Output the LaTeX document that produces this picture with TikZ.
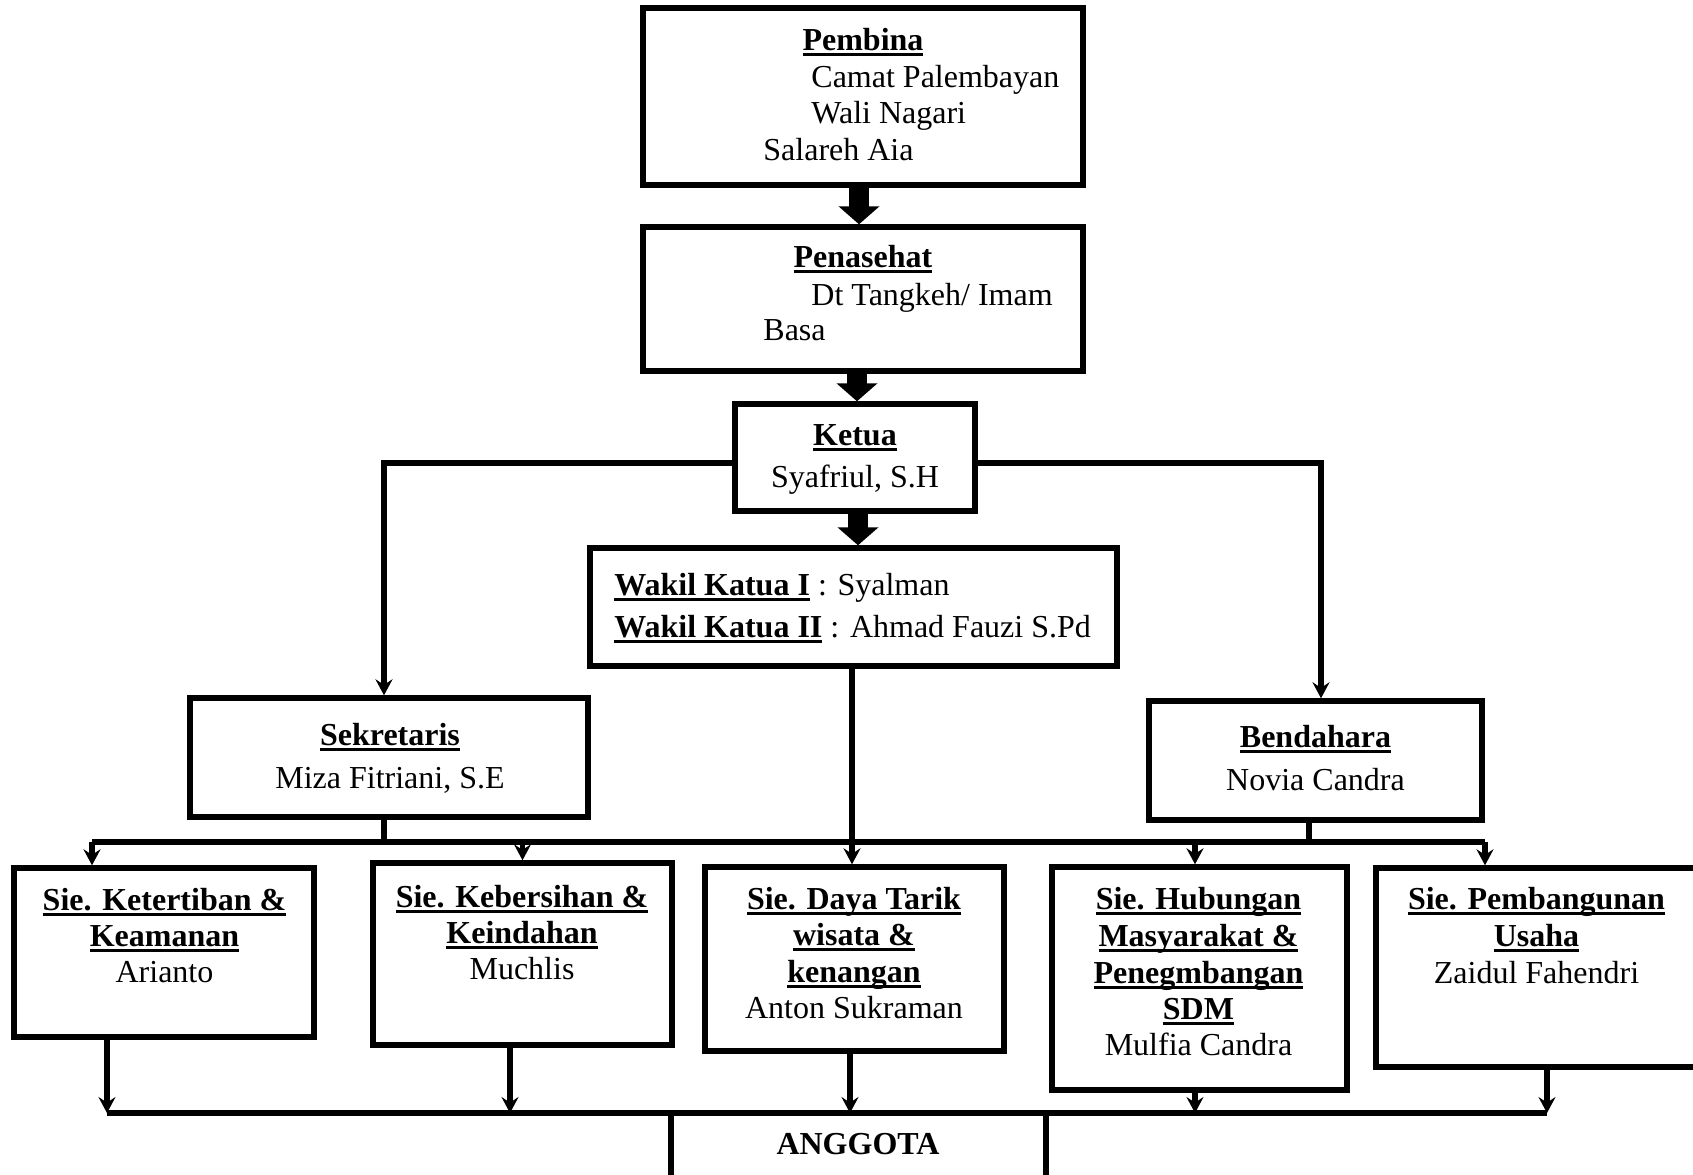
\documentclass[tikz,border=0pt]{standalone}
\usepackage{fontspec}
\setmainfont{Liberation Serif}
\usetikzlibrary{arrows.meta,fit}
\newcommand\myul[1]{\setbox0\hbox{#1}\leavevmode\rlap{\rule[-2.8pt]{\wd0}{1.5pt}}\box0}
\begin{document}
\begin{tikzpicture}[x=0.5pt,y=-0.5pt,
  box/.style={draw, line width=2.7pt, inner sep=0pt},
  con/.style={line width=2.7pt},
  arr/.style={con, -{Stealth[length=8pt,width=8.5pt,inset=2.8pt]}},
  blk/.style={line width=10pt, -{Triangle[length=9pt,width=20pt]}},
  tx/.style={inner sep=0pt, font=\fontsize{16pt}{18.3pt}\selectfont},
  tb/.style={inner sep=0pt, font=\fontsize{16pt}{18.3pt}\selectfont\bfseries},
]
\useasboundingbox (0,0) rectangle (1693,1174);
\clip (0,0) rectangle (1693,1174);
\fill[white] (0,0) rectangle (1693,1174);

% boxes
\node[box, fit={(643,8) (1083,185)}] (pembina) {};
\node[box, fit={(643,227) (1083,371)}] (penasehat) {};
\node[box, fit={(735,404) (975,511)}] (ketua) {};
\node[box, fit={(590,548) (1117,666)}] (wakil) {};
\node[box, fit={(190,698) (588,817)}] (sekretaris) {};
\node[box, fit={(1149,701) (1482,820)}] (bendahara) {};
\node[box, fit={(14,868) (314,1037)}] (sie1) {};
\node[box, fit={(373,863) (672,1045)}] (sie2) {};
\node[box, fit={(705,867) (1004,1051)}] (sie3) {};
\node[box, fit={(1052,867) (1347,1090)}] (sie4) {};
\node[box, fit={(1376,868) (1720,1067)}] (sie5) {};
\node[box, fit={(671,1113) (1046,1230)}] (anggota) {};

% texts
\node[tb, anchor=base] (t1) at (863,50) {\myul{Pembina}};
\node[tx, anchor=base west] (t2) at (811,87) {Camat Palembayan};
\node[tx, anchor=base west] (t3) at (811,123) {Wali Nagari};
\node[tx, anchor=base west] (t4) at (763,160) {Salareh Aia};
\node[tb, anchor=base] (t5) at (863,267) {\myul{Penasehat}};
\node[tx, anchor=base west] (t6) at (811,305) {Dt Tangkeh/ Imam};
\node[tx, anchor=base west] (t7) at (763,340) {Basa};
\node[tb, anchor=base] (t8) at (855,445) {\myul{Ketua}};
\node[tx, anchor=base] (t9) at (855,487) {Syafriul, S.H};
\node[tx, anchor=base west] (t10) at (614,595) {\textbf{\myul{Wakil Katua I}} : Syalman};
\node[tx, anchor=base west] (t11) at (614,637) {\textbf{\myul{Wakil Katua II}} : Ahmad Fauzi S.Pd};
\node[tb, anchor=base] (t12) at (390,745) {\myul{Sekretaris}};
\node[tx, anchor=base] (t13) at (390,788) {Miza Fitriani, S.E};
\node[tb, anchor=base] (t14) at (1315.5,747) {\myul{Bendahara}};
\node[tx, anchor=base] (t15) at (1315.5,790) {Novia Candra};
% sie 1
\node[tb, anchor=base] (t16) at (164.5,910) {\myul{Sie. Ketertiban \&}};
\node[tb, anchor=base] (t17) at (164.5,946) {\myul{Keamanan}};
\node[tx, anchor=base] (t18) at (164.5,982) {Arianto};
% sie 2
\node[tb, anchor=base] (t19) at (522,907) {\myul{Sie. Kebersihan \&}};
\node[tb, anchor=base] (t20) at (522,943) {\myul{Keindahan}};
\node[tx, anchor=base] (t21) at (522,979) {Muchlis};
% sie 3
\node[tb, anchor=base] (t22) at (854,909) {\myul{Sie. Daya Tarik}};
\node[tb, anchor=base] (t23) at (854,945.5) {\myul{wisata \&}};
\node[tb, anchor=base] (t24) at (854,982) {\myul{kenangan}};
\node[tx, anchor=base] (t25) at (854,1018.5) {Anton Sukraman};
% sie 4
\node[tb, anchor=base] (t26) at (1198.5,909) {\myul{Sie. Hubungan}};
\node[tb, anchor=base] (t27) at (1198.5,946) {\myul{Masyarakat \&}};
\node[tb, anchor=base] (t28) at (1198.5,983) {\myul{Penegmbangan}};
\node[tb, anchor=base] (t29) at (1198.5,1019) {\myul{SDM}};
\node[tx, anchor=base] (t30) at (1198.5,1055) {Mulfia Candra};
% sie 5
\node[tb, anchor=base] (t31) at (1536.5,909) {\myul{Sie. Pembangunan}};
\node[tb, anchor=base] (t32) at (1536.5,946) {\myul{Usaha}};
\node[tx, anchor=base] (t33) at (1536.5,983) {Zaidul Fahendri};
% anggota
\node[tb, anchor=base] (t34) at (858,1154) {ANGGOTA};

% block arrows
\draw[blk] ([xshift=-2pt]pembina.south) -- ([xshift=-2pt]penasehat.north);
\draw[blk] ([xshift=-3pt]penasehat.south) -- ([xshift=-3pt]penasehat.south |- ketua.north);
\draw[blk] ([xshift=1.5pt]ketua.south) -- ([xshift=1.5pt]ketua.south |- wakil.north);

% ketua to sekretaris / bendahara
\draw[arr] ([yshift=-2.75pt]ketua.west) -| ([xshift=-2.5pt]sekretaris.north);
\draw[arr] ([yshift=-2.75pt]ketua.east) -| ([xshift=2.75pt]bendahara.north);

% top bus
\coordinate (busL) at (92,842);
\coordinate (busR) at (1485,842);
\draw[con] (busL) -- (busR);
\draw[con] ([xshift=-2.5pt]sekretaris.south) -- ([xshift=-2.5pt]sekretaris.south |- busL);
\draw[con] ([xshift=-3.25pt]bendahara.south) -- ([xshift=-3.25pt]bendahara.south |- busL);
\draw[arr] (busL) -- (busL |- sie1.north);
\draw[arr] (sie2.north |- busL) -- (sie2.north);
\draw[arr] ([xshift=-0.75pt]wakil.south) -- ([xshift=-0.75pt]wakil.south |- sie3.north);
\draw[arr] ([xshift=-2.25pt]sie4.north |- busL) -- ([xshift=-2.25pt]sie4.north);
\draw[arr] (busR) -- (busR |- sie5.north);

% bottom bus
\coordinate (bbL) at (107,1113);
\coordinate (bbR) at (1547,1113);
\draw[con] (bbL) -- (bbR);
\draw[arr] (bbL |- sie1.south) -- (bbL);
\draw[arr] ([xshift=-6.25pt]sie2.south) -- ([xshift=-6.25pt]sie2.south |- bbL);
\draw[arr] ([xshift=-2.25pt]sie3.south) -- ([xshift=-2.25pt]sie3.south |- bbL);
\draw[arr] ([xshift=-2.25pt]sie4.south) -- ([xshift=-2.25pt]sie4.south |- bbL);
\draw[arr] (bbR |- sie5.south) -- (bbR);
\end{tikzpicture}
\end{document}
